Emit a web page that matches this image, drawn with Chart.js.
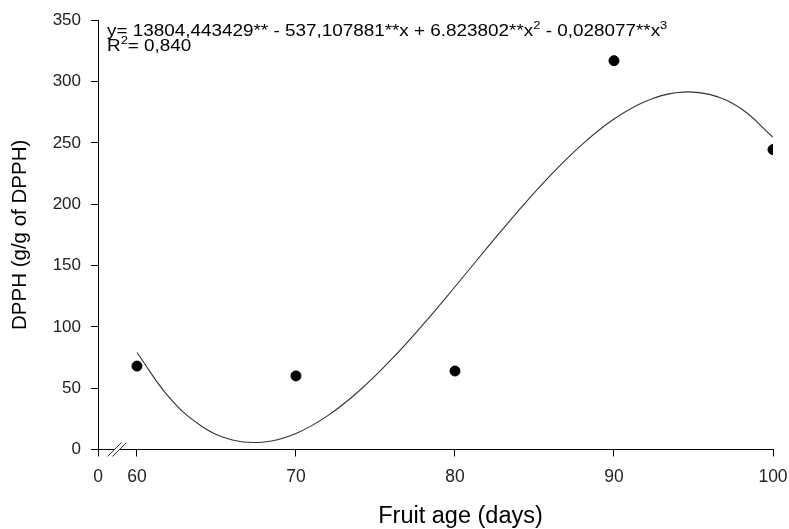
<!doctype html>
<html lang="en">
<head>
    <meta charset="UTF-8">
    <title>DPPH vs fruit age</title>
    <script src="https://cdn.jsdelivr.net/npm/chart.js"></script>
    <style>
        html, body { margin: 0; padding: 0; background: #fff; }
    </style>
</head>
<body>
<canvas id="dpphChart" width="789" height="529"></canvas>

<script>
    // observed means
    const fruitAge = [60, 70, 80, 90, 100];
    const dpph = [68, 60, 64, 317, 244.5];

    // fitted cubic
    const fitAge = [60, 62, 64, 66, 68, 70, 72, 74, 76, 78, 80, 82, 84, 86, 88, 90, 92, 94, 96, 98, 100];
    const fitDpph = [79.1, 42.9, 19.6, 7.8, 6.1, 13.1, 27.6, 48.1, 73.4, 102.0, 132.7, 164.1, 194.8, 223.5, 248.8, 269.4, 283.9, 291.1, 289.5, 277.8, 254.6];

    // axis: broken between 0 and 60
    const xTickValues = [57.55, 60, 70, 80, 90, 100];
    const xTickLabels = ['0', '60', '70', '80', '90', '100'];

    // equation text, [text, superscript]
    const eqLine1 = [['y= 13804,443429** - 537,107881**x + 6.823802**x', false], ['2', true], [' - 0,028077**x', false], ['3', true]];
    const eqLine2 = [['R', false], ['2', true], ['= 0,840', false]];
    const xTitle = 'Fruit age (days)';

    const FONT = "'Liberation Sans', Arial, sans-serif";
    const INK = '#222';

    // equation in the top-left corner of the plot, x title under the axis
    const extraText = {
        id: 'extraText',
        afterDraw(chart) {
            const ctx = chart.ctx;
            const area = chart.chartArea;
            const drawLine = (parts, x, y) => {
                parts.forEach(([txt, sup]) => {
                    ctx.font = (sup ? '11px ' : '16px ') + FONT;
                    ctx.fillText(txt, x, sup ? y - 7 : y);
                    x += ctx.measureText(txt).width;
                });
            };
            ctx.save();
            ctx.fillStyle = '#000';
            ctx.textBaseline = 'alphabetic';
            // the original lettering is stretched sideways
            ctx.translate(area.left + 9, 0);
            ctx.scale(1.18, 1);
            drawLine(eqLine1, 0, area.top + 15.8);
            drawLine(eqLine2, 0, area.top + 30.8);
            ctx.restore();

            ctx.save();
            ctx.fillStyle = '#000';
            ctx.font = '23.5px ' + FONT;
            ctx.textAlign = 'center';
            ctx.fillText(xTitle, (area.left + area.right) / 2 + 25, chart.height - 6);
            ctx.restore();
        }
    };

    // the // break mark on the x axis
    const axisBreak = {
        id: 'axisBreak',
        afterDraw(chart) {
            const ctx = chart.ctx;
            const xs = chart.scales.x;
            const y0 = chart.chartArea.bottom;
            const cx = (xs.getPixelForValue(xTickValues[0]) + xs.getPixelForValue(xTickValues[1])) / 2 - 0.5;
            ctx.save();
            ctx.fillStyle = '#fff';
            ctx.fillRect(cx - 2, y0 - 2, 4, 4);
            ctx.strokeStyle = '#333';
            ctx.lineWidth = 1;
            [-2.5, 2.5].forEach(d => {
                ctx.beginPath();
                ctx.moveTo(cx + d - 7, y0 + 7);
                ctx.lineTo(cx + d + 7, y0 - 7);
                ctx.stroke();
            });
            ctx.restore();
        }
    };

    const ctx = document.getElementById('dpphChart').getContext('2d');
    new Chart(ctx, {
        type: 'scatter',
        data: {
            datasets: [{
                type: 'line',
                data: fitAge.map((a, i) => ({x: a, y: fitDpph[i]})),
                borderColor: '#333',
                borderWidth: 1.1,
                pointRadius: 0,
                tension: 0.4,
                fill: false
            }, {
                data: fruitAge.map((a, i) => ({x: a, y: dpph[i]})),
                backgroundColor: '#000',
                borderColor: '#000',
                pointRadius: 5,
                pointHoverRadius: 5
            }]
        },
        options: {
            responsive: false,
            animation: false,
            devicePixelRatio: 1,
            layout: {padding: {left: 0, right: 16, top: 17.5, bottom: 0}},
            plugins: {legend: {display: false}, tooltip: {enabled: false}},
            scales: {
                x: {
                    type: 'linear',
                    min: xTickValues[0],
                    max: 100,
                    afterBuildTicks: s => { s.ticks = xTickValues.map(v => ({value: v})); },
                    afterFit: s => { s.height = 79.5; s.paddingLeft = 0; s.paddingRight = 0; },
                    border: {color: '#000', width: 1},
                    grid: {drawOnChartArea: false, drawTicks: true, tickLength: 7, color: '#000'},
                    ticks: {
                        autoSkip: false, maxRotation: 0, padding: 10, color: INK,
                        font: {family: FONT, size: 17.5},
                        callback: (v, i) => xTickLabels[i]
                    }
                },
                y: {
                    min: 0,
                    max: 350,
                    afterFit: s => { s.width = 98; },
                    border: {color: '#000', width: 1},
                    grid: {drawOnChartArea: false, drawTicks: true, tickLength: 7, color: '#000'},
                    ticks: {stepSize: 50, padding: 10, color: INK, font: {family: FONT, size: 17}},
                    title: {
                        display: true, text: 'DPPH (g/g of DPPH)', color: '#000',
                        font: {family: FONT, size: 20.5}, padding: {top: 8.5, bottom: 0}
                    }
                }
            }
        },
        plugins: [extraText, axisBreak]
    });
</script>
</body>
</html>
